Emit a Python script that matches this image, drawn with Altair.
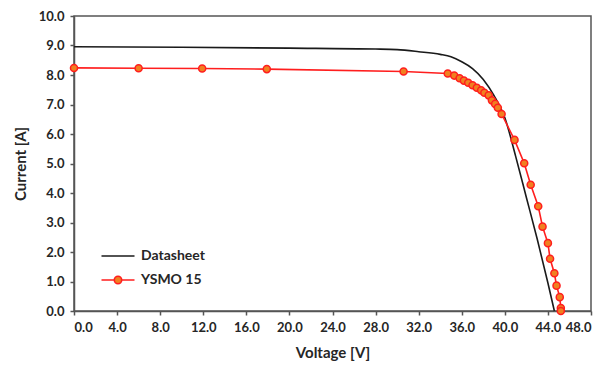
import altair as alt
import pandas as pd

# Datasheet I-V curve
ds_v = [0.0, 10.0, 20.0, 28.0, 30.0, 32.0, 34.0, 35.0, 36.0, 37.0, 38.0, 39.0, 40.0, 41.0, 42.0, 43.0, 44.0, 44.6]
ds_i = [8.96, 8.94, 8.91, 8.88, 8.86, 8.79, 8.70, 8.62, 8.45, 8.22, 7.85, 7.30, 6.55, 5.25, 3.85, 2.45, 0.95, 0.0]

# YSMO 15 measured I-V points
ys_v = [0.0, 6.0, 11.9, 17.9, 30.6, 34.7, 35.3, 35.8, 36.2, 36.6, 37.0, 37.4, 37.8, 38.1, 38.5, 38.8,
        39.1, 39.35, 39.7, 40.9, 41.8, 42.4, 43.1, 43.5, 44.0, 44.2, 44.6, 44.8, 45.1, 45.2, 45.2]
ys_i = [8.24, 8.23, 8.22, 8.20, 8.12, 8.05, 7.98, 7.89, 7.81, 7.74, 7.65, 7.57, 7.48, 7.40, 7.31, 7.14,
        7.02, 6.89, 6.68, 5.80, 5.01, 4.28, 3.55, 2.86, 2.30, 1.77, 1.28, 0.86, 0.47, 0.10, 0.0]

series = ["Datasheet", "YSMO 15"]
x_ticks = [0, 4, 8, 12, 16, 20, 24, 28, 32, 36, 40, 44, 48]
y_ticks = [0, 1, 2, 3, 4, 5, 6, 7, 8, 9, 10]

FONT = "Lato"
TXT = "#262626"
BLACK = "#1a1a1a"
RED = "#FF1E1E"
ORANGE = "#F08020"

ds = pd.DataFrame({"V": ds_v, "I": ds_i, "series": series[0]})
ys = pd.DataFrame({"V": ys_v, "I": ys_i, "series": series[1]})
both = pd.concat([ds, ys], ignore_index=True)

x = alt.X("V:Q", scale=alt.Scale(domain=[0, 48], nice=False, zero=False),
          axis=alt.Axis(values=x_ticks, format=".1f", title="Voltage [V]", grid=False,
                        labelPadding=6, titlePadding=11, labelOverlap=False))
y = alt.Y("I:Q", scale=alt.Scale(domain=[0, 10], nice=False),
          axis=alt.Axis(values=y_ticks, format=".1f", title="Current [A]", grid=False,
                        labelPadding=6, titlePadding=10, labelOverlap=False))

line_ds = alt.Chart(ds).mark_line(color=BLACK, strokeWidth=1.6, interpolate="monotone").encode(x=x, y=y)
line_ys = alt.Chart(ys).mark_line(color=RED, strokeWidth=1.6).encode(x=x, y=y)
pts = alt.Chart(ys).mark_circle(size=50, color=ORANGE, stroke=RED, strokeWidth=1.5, opacity=1).encode(x=x, y=y)

path_ds = "M-3.3,0L3.3,0"
path_ys = "M-3.3,0L-0.74,0M0.74,0L3.3,0M-0.74,0A0.74,0.74,0,1,0,0.74,0A0.74,0.74,0,1,0,-0.74,0Z"

leg_props = dict(title=None, orient="none", legendX=37, legendY=233, padding=0,
                 labelFont=FONT, labelFontSize=14, labelFontWeight="bold", labelColor=TXT,
                 labelOffset=16, rowPadding=10, symbolSize=100, symbolStrokeWidth=1.6,
                 symbolOpacity=1)

leg = alt.Chart(both).mark_point(opacity=0, size=100, fill=ORANGE, filled=False).encode(
    x=x, y=y,
    shape=alt.Shape("series:N", scale=alt.Scale(domain=series, range=[path_ds, path_ys]),
                    legend=alt.Legend(**leg_props)),
    stroke=alt.Stroke("series:N", scale=alt.Scale(domain=series, range=[BLACK, RED]),
                      legend=alt.Legend(**leg_props)),
)

chart = alt.layer(line_ds, line_ys, pts, leg).properties(
    width=517, height=295,
    autosize="none",
    padding={"left": 74, "top": 16, "right": 16, "bottom": 58},
    background="white",
).configure_view(stroke="#555555", strokeWidth=1.5).configure_axis(
    domainColor="#555555", domainWidth=1.5, tickColor="#555555", tickWidth=1.5, tickSize=4,
    labelFont=FONT, labelFontSize=13, labelFontWeight="bold", labelColor=TXT,
    titleFont=FONT, titleFontSize=15, titleFontWeight="bold", titleColor=TXT,
)

chart.save("out.html", embed_options={"renderer": "svg", "actions": False})
